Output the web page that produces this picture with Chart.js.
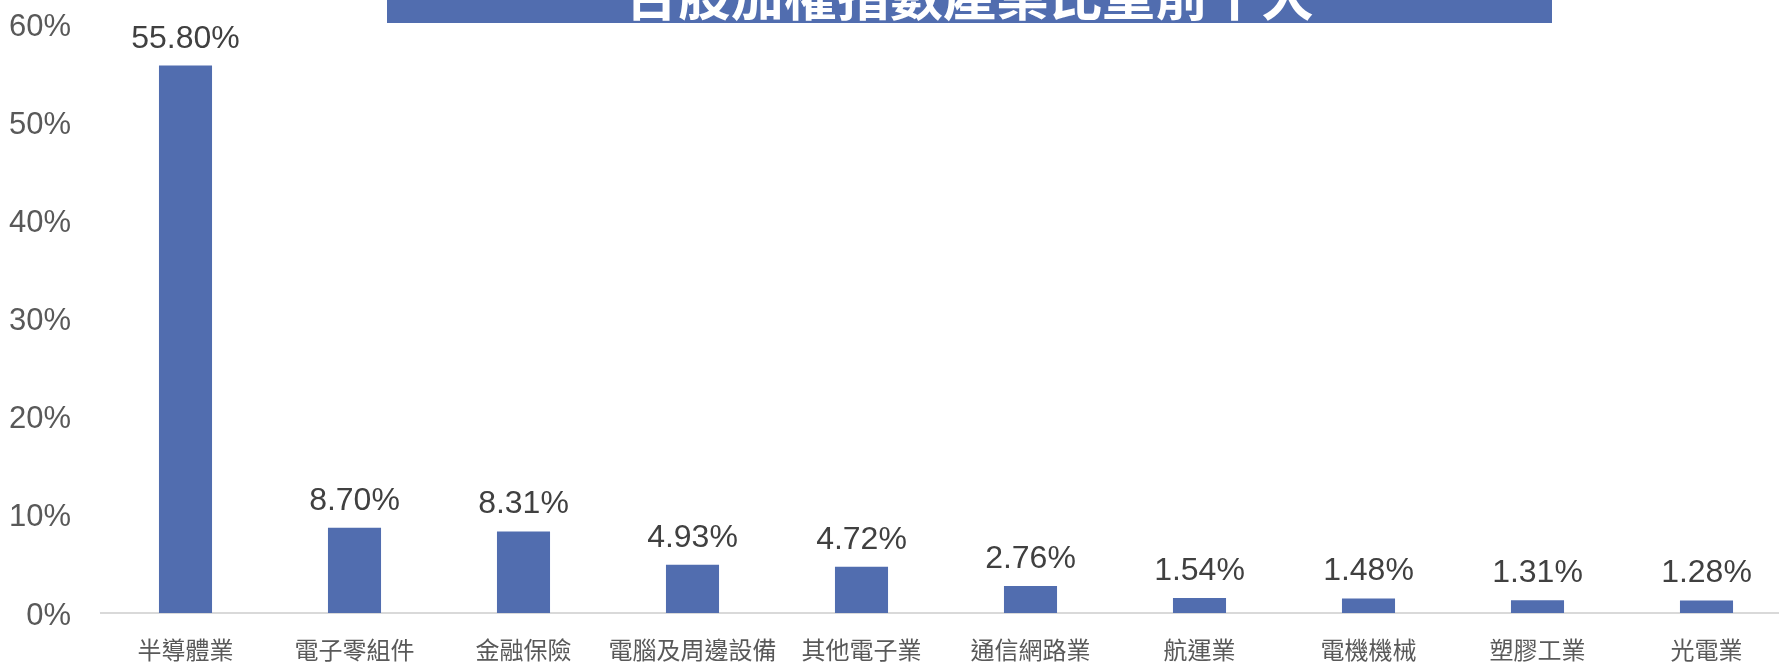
<!DOCTYPE html>
<html>
<head>
<meta charset="utf-8">
<script src="https://cdn.jsdelivr.net/npm/chart.js@4"></script>
<style>
  html, body { margin: 0; padding: 0; overflow: hidden; background: #ffffff; }
  #wrap { position: relative; width: 1800px; height: 662px; }
  #titleBox { position: absolute; left: 387px; top: -40px; width: 1165px; height: 63px; background: #516DAF; }
  #titleText { position: absolute; left: 387px; top: -45px; width: 1165px; line-height: 53px; text-align: center;
    font: bold 53px "Noto Sans CJK TC", "Noto Sans CJK SC", sans-serif; color: #ffffff; white-space: nowrap; }
</style>
</head>
<body>
<div id="wrap">
  <canvas id="c"></canvas>
  <div id="titleBox"></div>
  <div id="titleText">台股加權指數產業比重前十大</div>
</div>
<script>
const titleText = "台股加權指數產業比重前十大";
const categories = ["半導體業", "電子零組件", "金融保險", "電腦及周邊設備", "其他電子業", "通信網路業", "航運業", "電機機械", "塑膠工業", "光電業"];
const weights = [55.80, 8.70, 8.31, 4.93, 4.72, 2.76, 1.54, 1.48, 1.31, 1.28];
const yTicks = [0, 10, 20, 30, 40, 50, 60];

const barColor = '#516DAF';

const valueLabels = {
  id: 'valueLabels',
  afterDatasetsDraw(chart) {
    const ctx = chart.ctx;
    const meta = chart.getDatasetMeta(0);
    ctx.save();
    ctx.font = '32px "Liberation Sans", Arial, sans-serif';
    ctx.fillStyle = '#404040';
    ctx.textAlign = 'center';
    ctx.textBaseline = 'alphabetic';
    meta.data.forEach((bar, i) => {
      ctx.fillText(weights[i].toFixed(2) + '%', bar.x, bar.y - 18);
    });
    ctx.restore();
  }
};

new Chart(document.getElementById('c'), {
  type: 'bar',
  data: {
    labels: categories,
    datasets: [{
      data: weights,
      backgroundColor: barColor,
      borderWidth: 0,
      categoryPercentage: 1.0,
      barPercentage: 0.314
    }]
  },
  options: {
    responsive: true,
    maintainAspectRatio: false,
    animation: false,
    layout: { padding: { top: 24.4, right: 9, bottom: 0, left: 0 } },
    plugins: {
      legend: { display: false },
      tooltip: { enabled: false },
      title: { display: false }
    },
    scales: {
      x: {
        grid: { display: false },
        border: { display: true, color: '#D9D9D9', width: 2 },
        ticks: {
          color: '#595959',
          font: { family: '"Noto Sans CJK TC", "Noto Sans CJK SC", sans-serif', size: 24 },
          padding: 14,
          maxRotation: 0,
          autoSkip: false
        },
        afterFit(scale) { scale.height = 49; scale.paddingLeft = 0; scale.paddingRight = 0; }
      },
      y: {
        min: 0,
        max: 60,
        afterBuildTicks(scale) { scale.ticks = yTicks.map(v => ({ value: v })); },
        grid: { display: false, drawTicks: false },
        border: { display: false },
        ticks: {
          color: '#595959',
          font: { family: '"Liberation Sans", Arial, sans-serif', size: 31 },
          padding: 30,
          labelOffset: 3,
          callback: v => v + '%'
        },
        afterFit(scale) { scale.width = 101; scale.paddingTop = 0; scale.paddingBottom = 0; }
      }
    }
  },
  plugins: [valueLabels]
});
</script>
</body>
</html>
